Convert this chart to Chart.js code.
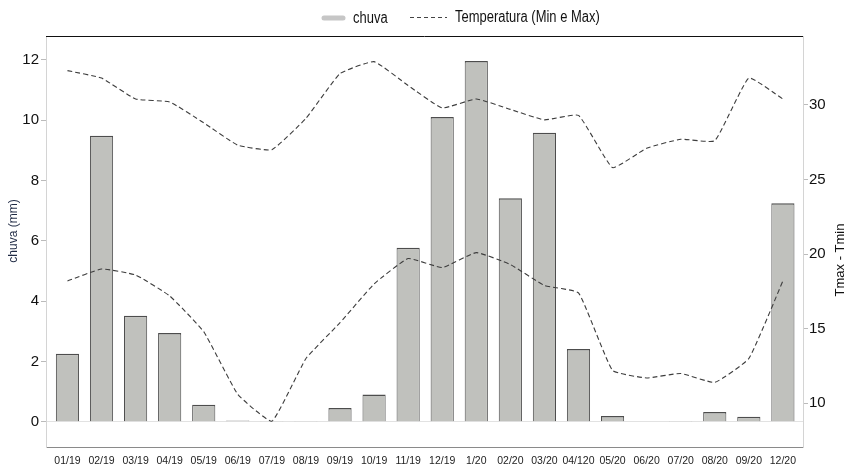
<!DOCTYPE html>
<html>
<head>
<meta charset="utf-8">
<script src="https://cdn.jsdelivr.net/npm/chart.js@4"></script>
<style>
    html, body { margin: 0; padding: 0; background: #fff; }
    #wrap { width: 852px; height: 467px; position: relative; }
</style>
</head>
<body>
<div id="wrap"><canvas id="chuvaChart"></canvas></div>
<script>
// Data
const months = ['01/19', '02/19', '03/19', '04/19', '05/19', '06/19', '07/19', '08/19', '09/19', '10/19', '11/19', '12/19',
    '1/20', '02/20', '03/20', '04/120', '05/20', '06/20', '07/20', '08/20', '09/20', '12/20'];
const chuva = [2.25, 9.48, 3.51, 2.94, 0.56, 0.04, 0.02, 0.02, 0.45, 0.9, 5.77, 10.1,
    11.96, 7.41, 9.58, 2.41, 0.19, 0, 0.02, 0.32, 0.16, 7.24];
const tmax = [32.3, 31.8, 30.4, 30.2, 28.8, 27.3, 27.0, 29.1, 32.1, 32.9, 31.3, 29.8,
    30.4, 29.7, 29.0, 29.3, 25.8, 27.1, 27.7, 27.6, 31.8, 30.4];
const tmin = [18.2, 19.0, 18.6, 17.2, 14.8, 10.6, 8.8, 13.0, 15.4, 18.0, 19.7, 19.1,
    20.1, 19.3, 17.9, 17.4, 12.2, 11.7, 12.0, 11.4, 13.0, 18.2];
const chuvaTicks = [0, 2, 4, 6, 8, 10, 12];
const tempTicks = [10, 15, 20, 25, 30];

const FONT = "'Liberation Sans', Arial, sans-serif";

// frame line on top, legend and axis titles
const extras = {
    id: 'extras',
    afterDraw(chart) {
        const { ctx, chartArea: a } = chart;
        ctx.save();
        ctx.strokeStyle = '#111';
        ctx.lineWidth = 1;
        ctx.beginPath();
        ctx.moveTo(a.left, a.top + 0.5);
        ctx.lineTo(a.right, a.top + 0.5);
        ctx.stroke();

        // legend
        ctx.lineCap = 'round';
        ctx.strokeStyle = '#c6c6c6';
        ctx.lineWidth = 5;
        ctx.beginPath();
        ctx.moveTo(324, 18);
        ctx.lineTo(343, 18);
        ctx.stroke();
        ctx.lineCap = 'butt';
        ctx.strokeStyle = '#444';
        ctx.lineWidth = 1;
        ctx.setLineDash([4, 3]);
        ctx.beginPath();
        ctx.moveTo(410, 17.5);
        ctx.lineTo(447, 17.5);
        ctx.stroke();
        ctx.setLineDash([]);
        ctx.fillStyle = '#111';
        ctx.font = '16px ' + FONT;
        ctx.textBaseline = 'middle';
        ctx.textAlign = 'left';
        ctx.save();
        ctx.scale(0.81, 1);
        ctx.fillText('chuva', 353 / 0.81, 19);
        ctx.fillText('Temperatura (Min e Max)', 455 / 0.81, 18);
        ctx.restore();

        // axis titles
        ctx.textAlign = 'center';
        ctx.fillStyle = '#1f2a44';
        ctx.font = '12px ' + FONT;
        ctx.save();
        ctx.translate(14, 231);
        ctx.rotate(-Math.PI / 2);
        ctx.fillText('chuva (mm)', 0, 0);
        ctx.restore();
        ctx.fillStyle = '#111';
        ctx.font = '13px ' + FONT;
        ctx.translate(840, 260);
        ctx.rotate(-Math.PI / 2);
        ctx.fillText('Tmax - Tmin', 0, 0);
        ctx.restore();
    }
};

const ctx = document.getElementById('chuvaChart').getContext('2d');
new Chart(ctx, {
    type: 'bar',
    data: {
        datasets: [{
            type: 'line',
            label: 'Tmax',
            data: tmax.map((v, i) => ({ x: i, y: v })),
            yAxisID: 'y1',
            borderColor: '#3d3d3d',
            borderWidth: 1.1,
            borderDash: [5, 3],
            pointRadius: 0,
            tension: 0.12,
            fill: false,
            order: 0
        }, {
            type: 'line',
            label: 'Tmin',
            data: tmin.map((v, i) => ({ x: i, y: v })),
            yAxisID: 'y1',
            borderColor: '#3d3d3d',
            borderWidth: 1.1,
            borderDash: [5, 3],
            pointRadius: 0,
            tension: 0.12,
            fill: false,
            order: 0
        }, {
            label: 'chuva',
            data: chuva.map((v, i) => ({ x: i, y: v })),
            yAxisID: 'y',
            backgroundColor: '#c0c1bd',
            borderColor: '#4d4d4d',
            borderWidth: { top: 1.5, left: 1, right: 1, bottom: 0 },
            barPercentage: 0.68,
            categoryPercentage: 1,
            order: 1
        }]
    },
    options: {
        responsive: true,
        maintainAspectRatio: false,
        animation: false,
        layout: {
            padding: { top: 36, left: 0, right: 0, bottom: 0 }
        },
        plugins: {
            legend: { display: false },
            tooltip: { enabled: false }
        },
        scales: {
            x: {
                type: 'linear',
                offset: false,
                min: -0.63,
                max: 21.59,
                afterBuildTicks: scale => { scale.ticks = months.map((m, i) => ({ value: i })); },
                afterFit: scale => { scale.height = 20; },
                ticks: {
                    autoSkip: false,
                    maxRotation: 0,
                    padding: 8,
                    color: '#222',
                    font: { family: FONT, size: 10.5 },
                    callback: value => months[value]
                },
                grid: { display: false, drawTicks: false },
                border: { display: true, color: '#8a8a8a' }
            },
            y: {
                position: 'left',
                min: -0.84,
                max: 12.79,
                afterBuildTicks: scale => { scale.ticks = chuvaTicks.map(v => ({ value: v })); },
                afterFit: scale => { scale.width = 46; },
                ticks: {
                    padding: 2,
                    color: '#111',
                    font: { family: FONT, size: 15 }
                },
                grid: {
                    drawOnChartArea: true,
                    color: c => (c.tick && c.tick.value === 0) ? '#e2e2e2' : 'rgba(0,0,0,0)',
                    tickColor: '#bbb',
                    tickLength: 5
                },
                border: { color: '#d4d4d4' }
            },
            y1: {
                position: 'right',
                min: 7.07,
                max: 34.62,
                afterBuildTicks: scale => { scale.ticks = tempTicks.map(v => ({ value: v })); },
                afterFit: scale => { scale.width = 49; },
                ticks: {
                    padding: 1,
                    color: '#111',
                    font: { family: FONT, size: 15 }
                },
                grid: {
                    drawOnChartArea: false,
                    tickColor: '#bbb',
                    tickLength: 5
                },
                border: { color: '#d4d4d4' }
            }
        }
    },
    plugins: [extras]
});
</script>
</body>
</html>
